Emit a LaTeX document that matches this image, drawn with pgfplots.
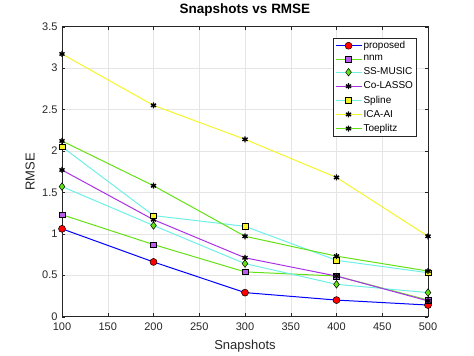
\documentclass[border=0pt]{standalone}
\usepackage{fontspec}
\setmainfont{Liberation Sans}
\usepackage{pgfplots}
\pgfplotsset{compat=1.18}
\definecolor{cyanl}{RGB}{110,240,230}
\definecolor{greenl}{RGB}{100,225,20}
\definecolor{purp}{RGB}{170,50,230}
\definecolor{yel}{RGB}{245,245,40}
\definecolor{axgray}{RGB}{38,38,38}
\begin{document}
\begin{tikzpicture}
\begin{axis}[
  scale only axis,
  width=366pt, height=290pt,
  xmin=100, xmax=500, ymin=0, ymax=3.5,
  xtick={100,150,...,500}, ytick={0,0.5,...,3.5},
  yticklabels={0,0.5,1,1.5,2,2.5,3,3.5},
  /pgf/number format/assume math mode=true,
  ticklabel style={font=\fontsize{11}{12}\selectfont, text=axgray},
  xticklabel style={yshift=-2.5pt},
  yticklabel style={xshift=-1pt},
  grid=major, major grid style={gray!20, line width=0.4pt},
  axis line style={axgray, line width=0.5pt},
  tick style={axgray},
  major tick length=3.5pt,
  title={\bfseries Snapshots vs RMSE},
  title style={font=\fontsize{13.5}{14}\selectfont, at={(axis description cs:0.5,1.038)}, anchor=center},
  xlabel={Snapshots}, ylabel={RMSE},
  label style={font=\fontsize{13}{14}\selectfont, text=axgray},
  xlabel style={at={(axis description cs:0.5,-0.1)}, anchor=center},
  ylabel style={at={(axis description cs:-0.087,0.5)}, anchor=center},
  legend style={at={(0.74,0.962)}, anchor=north west, font=\fontsize{10}{11}\selectfont, draw=axgray, line width=0.4pt, inner sep=2pt, row sep=2.5pt, nodes={inner sep=1.5pt}, legend cell align=left},
  legend image code/.code={\draw[mark repeat=2,mark phase=2] plot coordinates {(0pt,0pt) (13pt,0pt) (26pt,0pt)};},
]
\addplot[blue, line width=1pt, mark=*, mark size=3.5pt, mark options={fill=red, draw=black, line width=0.5pt}] coordinates {(100,1.06) (200,0.66) (300,0.29) (400,0.20) (500,0.14)};
\addlegendentry{proposed}
\addplot[greenl, line width=1pt, mark=square*, mark size=2.8pt, mark options={fill=purp!80, draw=black, line width=0.5pt}] coordinates {(100,1.23) (200,0.87) (300,0.54) (400,0.49) (500,0.20)};
\addlegendentry{nnm}
\addplot[cyanl, line width=1pt, mark=diamond*, mark size=3.8pt, mark options={fill=greenl, draw=black, line width=0.5pt}] coordinates {(100,1.57) (200,1.10) (300,0.64) (400,0.39) (500,0.29)};
\addlegendentry{SS-MUSIC}
\addplot[purp, line width=1pt, mark=asterisk, mark size=3pt, mark options={draw=black, line width=1.4pt}] coordinates {(100,1.77) (200,1.17) (300,0.71) (400,0.49) (500,0.19)};
\addlegendentry{Co-LASSO}
\addplot[cyanl, line width=1pt, mark=square*, mark size=2.8pt, mark options={fill=yel, draw=black, line width=0.5pt}] coordinates {(100,2.05) (200,1.22) (300,1.09) (400,0.68) (500,0.53)};
\addlegendentry{Spline}
\addplot[yel, line width=1pt, mark=asterisk, mark size=3pt, mark options={draw=black, line width=1.4pt}] coordinates {(100,3.17) (200,2.55) (300,2.14) (400,1.68) (500,0.97)};
\addlegendentry{ICA-AI}
\addplot[greenl, line width=1pt, mark=asterisk, mark size=3pt, mark options={draw=black, line width=1.4pt}] coordinates {(100,2.12) (200,1.58) (300,0.97) (400,0.73) (500,0.55)};
\addlegendentry{Toeplitz}
\end{axis}
\useasboundingbox ([xshift=-62pt,yshift=-39pt]current axis.south west) rectangle ([xshift=46pt,yshift=26pt]current axis.north east);
\end{tikzpicture}
\end{document}
